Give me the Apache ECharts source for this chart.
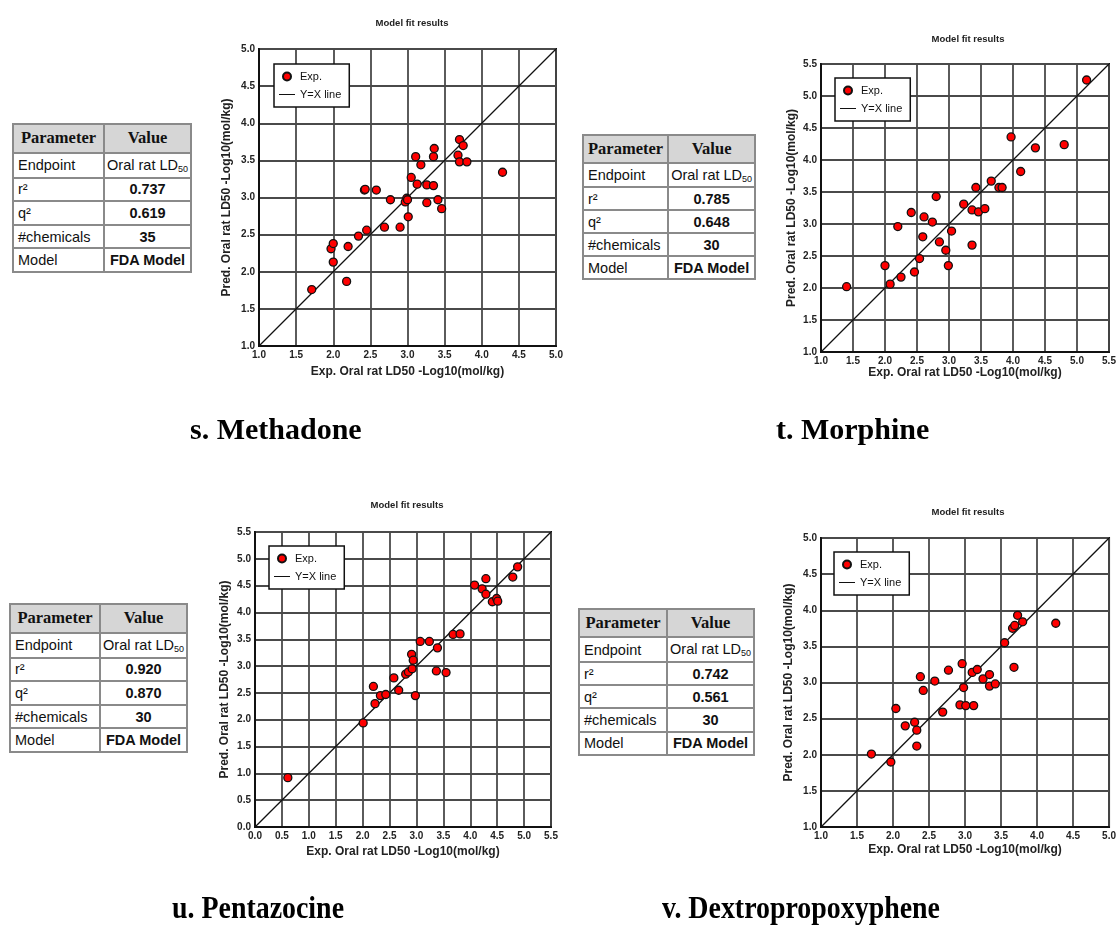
<!DOCTYPE html>
<html>
<head>
<meta charset="utf-8">
<script src="https://cdn.jsdelivr.net/npm/echarts@6/dist/echarts.min.js"></script>
<style>
  html, body { margin: 0; padding: 0; background: #fff; }
  #wrap { position: relative; width: 1119px; height: 935px; overflow: hidden; }
  #chart { position: absolute; left: 0; top: 0; width: 1119px; height: 935px; }
  table.param { position: absolute; border-collapse: collapse; font-family: "Liberation Sans", Arial, sans-serif; font-size: 14.5px; color: #111; background: #fff; }
  table.param td, table.param th { border: 2px solid #8a8a8a; padding: 0 4px; white-space: nowrap; }
  table.param th { background: #d6d6d6; font-family: "Liberation Serif", "Times New Roman", serif; font-weight: bold; font-size: 16.5px; }
  table.param td.v { text-align: center; }
  table.param td.b { font-weight: bold; }
  table.param sub { font-size: 9px; vertical-align: -2px; }
  .cap { position: absolute; font-family: "Liberation Serif", "Times New Roman", serif; font-weight: bold; font-size: 30px; color: #000; white-space: nowrap; transform-origin: 0 0; line-height: normal; }
</style>
</head>
<body>
<div id="wrap">
  <div id="chart"></div>
</div>
<script>
// ---------------- data ----------------
const plotTitle = 'Model fit results';
const xAxisName = 'Exp. Oral rat LD50 -Log10(mol/kg)';
const yAxisName = 'Pred. Oral rat LD50 -Log10(mol/kg)';
const legendNames = ['Exp.', 'Y=X line'];

// s. Methadone
const methadoneRange = [1.0, 5.0];
const methadoneExp  = [1.71, 1.97, 2.00, 2.00, 2.18, 2.20, 2.34, 2.45, 2.42, 2.43, 2.58, 2.77, 2.69, 2.90, 2.97, 2.99, 3.01, 3.05, 3.11, 3.13, 3.18, 3.26, 3.26, 3.35, 3.36, 3.35, 3.41, 3.46, 3.68, 3.70, 3.75, 3.70, 3.80, 4.28, 3.00];
const methadonePred = [1.76, 2.31, 2.38, 2.13, 1.87, 2.34, 2.48, 2.56, 3.10, 3.11, 3.10, 2.97, 2.60, 2.60, 2.94, 2.99, 2.74, 3.27, 3.55, 3.18, 3.44, 3.17, 2.93, 3.55, 3.66, 3.16, 2.97, 2.85, 3.57, 3.78, 3.70, 3.48, 3.48, 3.34, 2.97];

// t. Morphine
const morphineRange = [1.0, 5.5];
const morphineExp  = [1.40, 2.00, 2.08, 2.25, 2.20, 2.41, 2.46, 2.54, 2.59, 2.61, 2.74, 2.80, 2.85, 2.95, 2.99, 3.04, 3.23, 3.36, 3.36, 3.42, 3.46, 3.56, 3.66, 3.78, 3.83, 3.97, 4.12, 4.35, 4.80, 5.15];
const morphinePred = [2.02, 2.35, 2.06, 2.17, 2.96, 3.18, 2.25, 2.46, 2.80, 3.11, 3.03, 3.43, 2.72, 2.59, 2.35, 2.89, 3.31, 3.22, 2.67, 3.57, 3.19, 3.24, 3.67, 3.57, 3.57, 4.36, 3.82, 4.19, 4.24, 5.25];

// u. Pentazocine
const pentazocineRange = [0.0, 5.5];
const pentazocineExp  = [0.61, 2.01, 2.20, 2.23, 2.33, 2.43, 2.58, 2.67, 2.80, 2.85, 2.91, 2.94, 2.92, 2.98, 3.07, 3.24, 3.39, 3.37, 3.55, 3.68, 3.81, 4.08, 4.22, 4.29, 4.29, 4.41, 4.49, 4.51, 4.79, 4.88];
const pentazocinePred = [0.92, 1.94, 2.62, 2.30, 2.45, 2.47, 2.78, 2.55, 2.85, 2.89, 3.22, 3.11, 2.95, 2.45, 3.46, 3.46, 3.34, 2.91, 2.88, 3.59, 3.60, 4.51, 4.44, 4.63, 4.34, 4.20, 4.26, 4.21, 4.66, 4.85];

// v. Dextropropoxyphene
const dextroRange = [1.0, 5.0];
const dextroExp  = [1.70, 1.97, 2.04, 2.17, 2.30, 2.33, 2.33, 2.38, 2.42, 2.58, 2.69, 2.77, 2.93, 2.96, 2.98, 3.01, 3.10, 3.12, 3.17, 3.25, 3.34, 3.34, 3.42, 3.55, 3.66, 3.69, 3.68, 3.73, 3.80, 4.26];
const dextroPred = [2.01, 1.90, 2.64, 2.40, 2.45, 2.34, 2.12, 3.08, 2.89, 3.02, 2.59, 3.17, 2.69, 3.26, 2.93, 2.68, 3.14, 2.68, 3.18, 3.05, 3.11, 2.95, 2.98, 3.55, 3.75, 3.79, 3.21, 3.93, 3.84, 3.82];

// table values
const tableParams = ['Endpoint', 'r\u00b2', 'q\u00b2', '#chemicals', 'Model'];
const methadoneTable   = ['0.737', '0.619', '35', 'FDA Model'];
const morphineTable    = ['0.785', '0.648', '30', 'FDA Model'];
const pentazocineTable = ['0.920', '0.870', '30', 'FDA Model'];
const dextroTable      = ['0.742', '0.561', '30', 'FDA Model'];
const captions = ['s. Methadone', 't. Morphine', 'u. Pentazocine', 'v. Dextropropoxyphene'];

// ---------------- layout ----------------
const panels = [
  { exp: methadoneExp, pred: methadonePred, range: methadoneRange,
    grid: { left: 259, top: 49, width: 297, height: 297 }, titleX: 407, titleY: 13,
    legend: { left: 274, top: 64 }, xGap: 20, yGap: 26 },
  { exp: morphineExp, pred: morphinePred, range: morphineRange,
    grid: { left: 821, top: 64, width: 288, height: 288 }, titleX: 963, titleY: 29,
    legend: { left: 835, top: 78 }, xGap: 14, yGap: 23 },
  { exp: pentazocineExp, pred: pentazocinePred, range: pentazocineRange,
    grid: { left: 255, top: 532, width: 296, height: 295 }, titleX: 402, titleY: 495,
    legend: { left: 269, top: 546 }, xGap: 19, yGap: 24 },
  { exp: dextroExp, pred: dextroPred, range: dextroRange,
    grid: { left: 821, top: 538, width: 290, height: 289 }, titleX: 963, titleY: 502,
    legend: { left: 834, top: 552 }, xGap: 17, yGap: 26 }
];

const tables = [
  { vals: methadoneTable, left: 12, top: 123, w: 180, h: 150, c1: 87 },
  { vals: morphineTable, left: 582, top: 134, w: 174, h: 146, c1: 85 },
  { vals: pentazocineTable, left: 9, top: 603, w: 179, h: 150, c1: 88 },
  { vals: dextroTable, left: 578, top: 608, w: 177, h: 148, c1: 88 }
];

const capPos = [
  { left: 190, top: 412, size: 30, sx: 1 },
  { left: 776, top: 412, size: 30, sx: 1 },
  { left: 172, top: 890, size: 31, sx: 0.9 },
  { left: 662, top: 890, size: 31, sx: 0.9 }
];

// ---------------- build tables & captions ----------------
const wrap = document.getElementById('wrap');
tables.forEach(t => {
  const tb = document.createElement('table');
  tb.className = 'param';
  tb.style.left = t.left + 'px';
  tb.style.top = t.top + 'px';
  tb.style.width = t.w + 'px';
  tb.style.height = t.h + 'px';
  let html = '<tr><th style="width:' + t.c1 + 'px">Parameter</th><th>Value</th></tr>';
  html += '<tr><td>' + tableParams[0] + '</td><td class="v" style="padding:0 2px">Oral rat LD<sub>50</sub></td></tr>';
  for (let i = 1; i < tableParams.length; i++) {
    html += '<tr><td>' + tableParams[i] + '</td><td class="v b">' + t.vals[i - 1] + '</td></tr>';
  }
  tb.innerHTML = html;
  wrap.appendChild(tb);
});
captions.forEach((c, i) => {
  const d = document.createElement('div');
  d.className = 'cap';
  d.textContent = c;
  d.style.left = capPos[i].left + 'px';
  d.style.top = capPos[i].top + 'px';
  d.style.fontSize = capPos[i].size + 'px';
  if (capPos[i].sx !== 1) d.style.transform = 'scaleX(' + capPos[i].sx + ')';
  wrap.appendChild(d);
});

// ---------------- chart ----------------
const FONT = '"Liberation Sans", Arial, sans-serif';
const option = {
  animation: false,
  backgroundColor: 'transparent',
  title: [], grid: [], xAxis: [], yAxis: [], legend: [], series: []
};

panels.forEach((p, i) => {
  option.title.push({
    text: plotTitle, left: p.titleX, top: p.titleY, textAlign: 'center',
    textStyle: { fontFamily: FONT, fontSize: 9.5, fontWeight: 'bold', color: '#222' }
  });
  option.grid.push(Object.assign({
    show: true, borderColor: '#111', borderWidth: 2, backgroundColor: '#fff', containLabel: false
  }, p.grid));
  const axisCommon = {
    type: 'value', gridIndex: i, min: p.range[0], max: p.range[1], interval: 0.5,
    nameLocation: 'middle',
    nameTextStyle: { fontFamily: FONT, fontSize: 12, fontWeight: 'bold', color: '#222' },
    axisLine: { show: true, lineStyle: { color: '#111', width: 2 } },
    axisTick: { show: false },
    splitLine: { show: true, lineStyle: { color: '#4a4a4a', width: 1.8 } },
    axisLabel: {
      fontFamily: FONT, fontSize: 10, fontWeight: 'bold', color: '#222',
      showMinLabel: true, showMaxLabel: true, margin: 4,
      formatter: v => v.toFixed(1)
    }
  };
  option.xAxis.push(Object.assign({}, axisCommon, { name: xAxisName, nameGap: p.xGap }));
  option.yAxis.push(Object.assign({}, axisCommon, { name: yAxisName, nameGap: p.yGap }));
  option.legend.push({
    left: p.legend.left, top: p.legend.top, orient: 'vertical',
    data: [
      { name: legendNames[0], icon: 'circle' },
      { name: legendNames[1], icon: 'path://M0,0L32,0L32,2L0,2Z' }
    ],
    backgroundColor: '#fff', borderColor: '#111', borderWidth: 1.5,
    padding: [7, 8, 7, 5], itemGap: 7, itemWidth: 16, itemHeight: 8,
    selectedMode: false,
    textStyle: { fontFamily: FONT, fontSize: 11, color: '#111' }
  });
  option.series.push({
    name: legendNames[1], type: 'line', xAxisIndex: i, yAxisIndex: i,
    data: [[p.range[0], p.range[0]], [p.range[1], p.range[1]]],
    symbol: 'none', silent: true, z: 2,
    lineStyle: { color: '#111', width: 1.3 },
    itemStyle: { color: '#111' }
  });
  option.series.push({
    name: legendNames[0], type: 'scatter', xAxisIndex: i, yAxisIndex: i,
    data: p.exp.map((x, k) => [x, p.pred[k]]),
    symbol: 'circle', symbolSize: 8, z: 3,
    itemStyle: { color: '#ff0000', borderColor: '#111', borderWidth: 1.3, opacity: 1 }
  });
});

const chart = echarts.init(document.getElementById('chart'), null, { renderer: 'canvas' });
chart.setOption(option);
</script>
</body>
</html>
